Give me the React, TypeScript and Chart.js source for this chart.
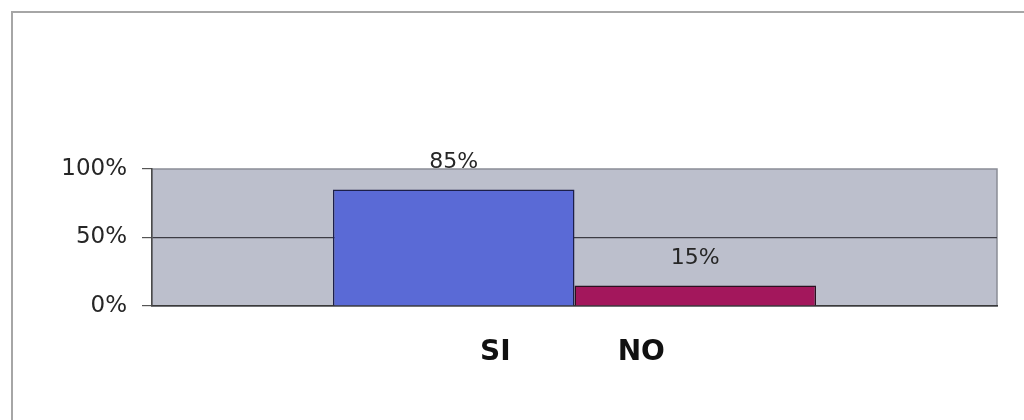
import React, { useEffect, useRef } from "react";
import { Chart, registerables } from "chart.js";

Chart.register(...registerables);

const categories: string[] = [""];
const seriesNames: string[] = ["SI", "NO"];
const siValues: number[] = [85];
const noValues: number[] = [15];
const yTicks: number[] = [0, 50, 100];

const framePlugin = {
  id: "framePlugin",
  beforeDraw(chart: any) {
    const { ctx, chartArea } = chart;
    ctx.save();
    ctx.fillStyle = "#ffffff";
    ctx.fillRect(0, 0, chart.width, chart.height);
    ctx.strokeStyle = "#a6a6a6";
    ctx.lineWidth = 2;
    ctx.strokeRect(12, 12, chart.width + 20, chart.height + 20);
    ctx.fillStyle = "#bcbfcc";
    ctx.fillRect(chartArea.left, chartArea.top, chartArea.right - chartArea.left, chartArea.bottom - chartArea.top);
    ctx.strokeStyle = "#8a8d96";
    ctx.lineWidth = 1.5;
    ctx.strokeRect(chartArea.left, chartArea.top, chartArea.right - chartArea.left, chartArea.bottom - chartArea.top);
    ctx.restore();
  },
};

const valueLabelPlugin = {
  id: "valueLabelPlugin",
  afterDatasetsDraw(chart: any) {
    const { ctx } = chart;
    ctx.save();
    ctx.font = "22px 'DejaVu Sans'";
    ctx.fillStyle = "#262626";
    ctx.textAlign = "center";
    ctx.textBaseline = "middle";
    chart.data.datasets.forEach((ds: any, di: number) => {
      const meta = chart.getDatasetMeta(di);
      meta.data.forEach((el: any, i: number) => {
        ctx.fillText(`${ds.data[i]}%`, el.x, el.y - 27);
      });
    });
    ctx.restore();
  },
};

export default function App() {
  const ref = useRef<HTMLCanvasElement | null>(null);

  useEffect(() => {
    if (!ref.current) return;
    const chart = new Chart(ref.current, {
      type: "bar",
      data: {
        labels: categories,
        datasets: [
          {
            label: seriesNames[0],
            data: siValues,
            backgroundColor: "#5a6ad6",
            borderColor: "#1c1f4a",
            borderWidth: 1.5,
          },
          {
            label: seriesNames[1],
            data: noValues,
            backgroundColor: "#a3175c",
            borderColor: "#2a1020",
            borderWidth: 1.5,
          },
        ],
      },
      options: {
        responsive: false,
        animation: false,
        layout: { padding: { top: 169, left: 51, right: 27, bottom: 43 } },
        datasets: {
          bar: { categoryPercentage: 0.5716, barPercentage: 1 },
        },
        scales: {
          x: {
            ticks: { display: false },
            grid: { display: false },
            border: { display: true, color: "#3a3a3a", width: 1.5 },
            afterFit(scale: any) {
              scale.height = 23;
            },
          },
          y: {
            min: 0,
            max: 100,
            afterBuildTicks(scale: any) {
              scale.ticks = yTicks.map((v) => ({ value: v }));
            },
            ticks: {
              padding: 15,
              color: "#262626",
              font: { family: "'DejaVu Sans'", size: 23 },
              callback: (v: any) => `${v}%`,
            },
            grid: {
              color: (c: any) => (c.tick && c.tick.value === 50 ? "#3c3c44" : "rgba(0,0,0,0)"),
              lineWidth: 1.2,
              tickLength: 10,
              tickColor: "#555555",
              drawTicks: true,
            },
            border: { display: true, color: "#4a4a4a", width: 1.5 },
            afterFit(scale: any) {
              scale.width = 101;
            },
          },
        },
        plugins: {
          legend: {
            display: true,
            position: "bottom",
            labels: {
              boxWidth: 83,
              boxHeight: 1,
              padding: 10,
              color: "#111111",
              font: { family: "'DejaVu Sans'", size: 28, weight: "bold" },
              generateLabels: (c: any) =>
                c.data.datasets.map((ds: any, i: number) => ({
                  text: ds.label,
                  fillStyle: "rgba(0,0,0,0)",
                  strokeStyle: "rgba(0,0,0,0)",
                  lineWidth: 0,
                  hidden: false,
                  datasetIndex: i,
                  fontColor: "#111111",
                })),
            },
          },
          tooltip: { enabled: false },
        },
      },
      plugins: [framePlugin, valueLabelPlugin],
    });
    return () => chart.destroy();
  }, []);

  return (
    <div style={{ position: "fixed", left: 0, top: 0, width: 1024, height: 420, background: "#ffffff" }}>
      <canvas ref={ref} width={1024} height={420} style={{ width: 1024, height: 420, display: "block" }} />
    </div>
  );
}
